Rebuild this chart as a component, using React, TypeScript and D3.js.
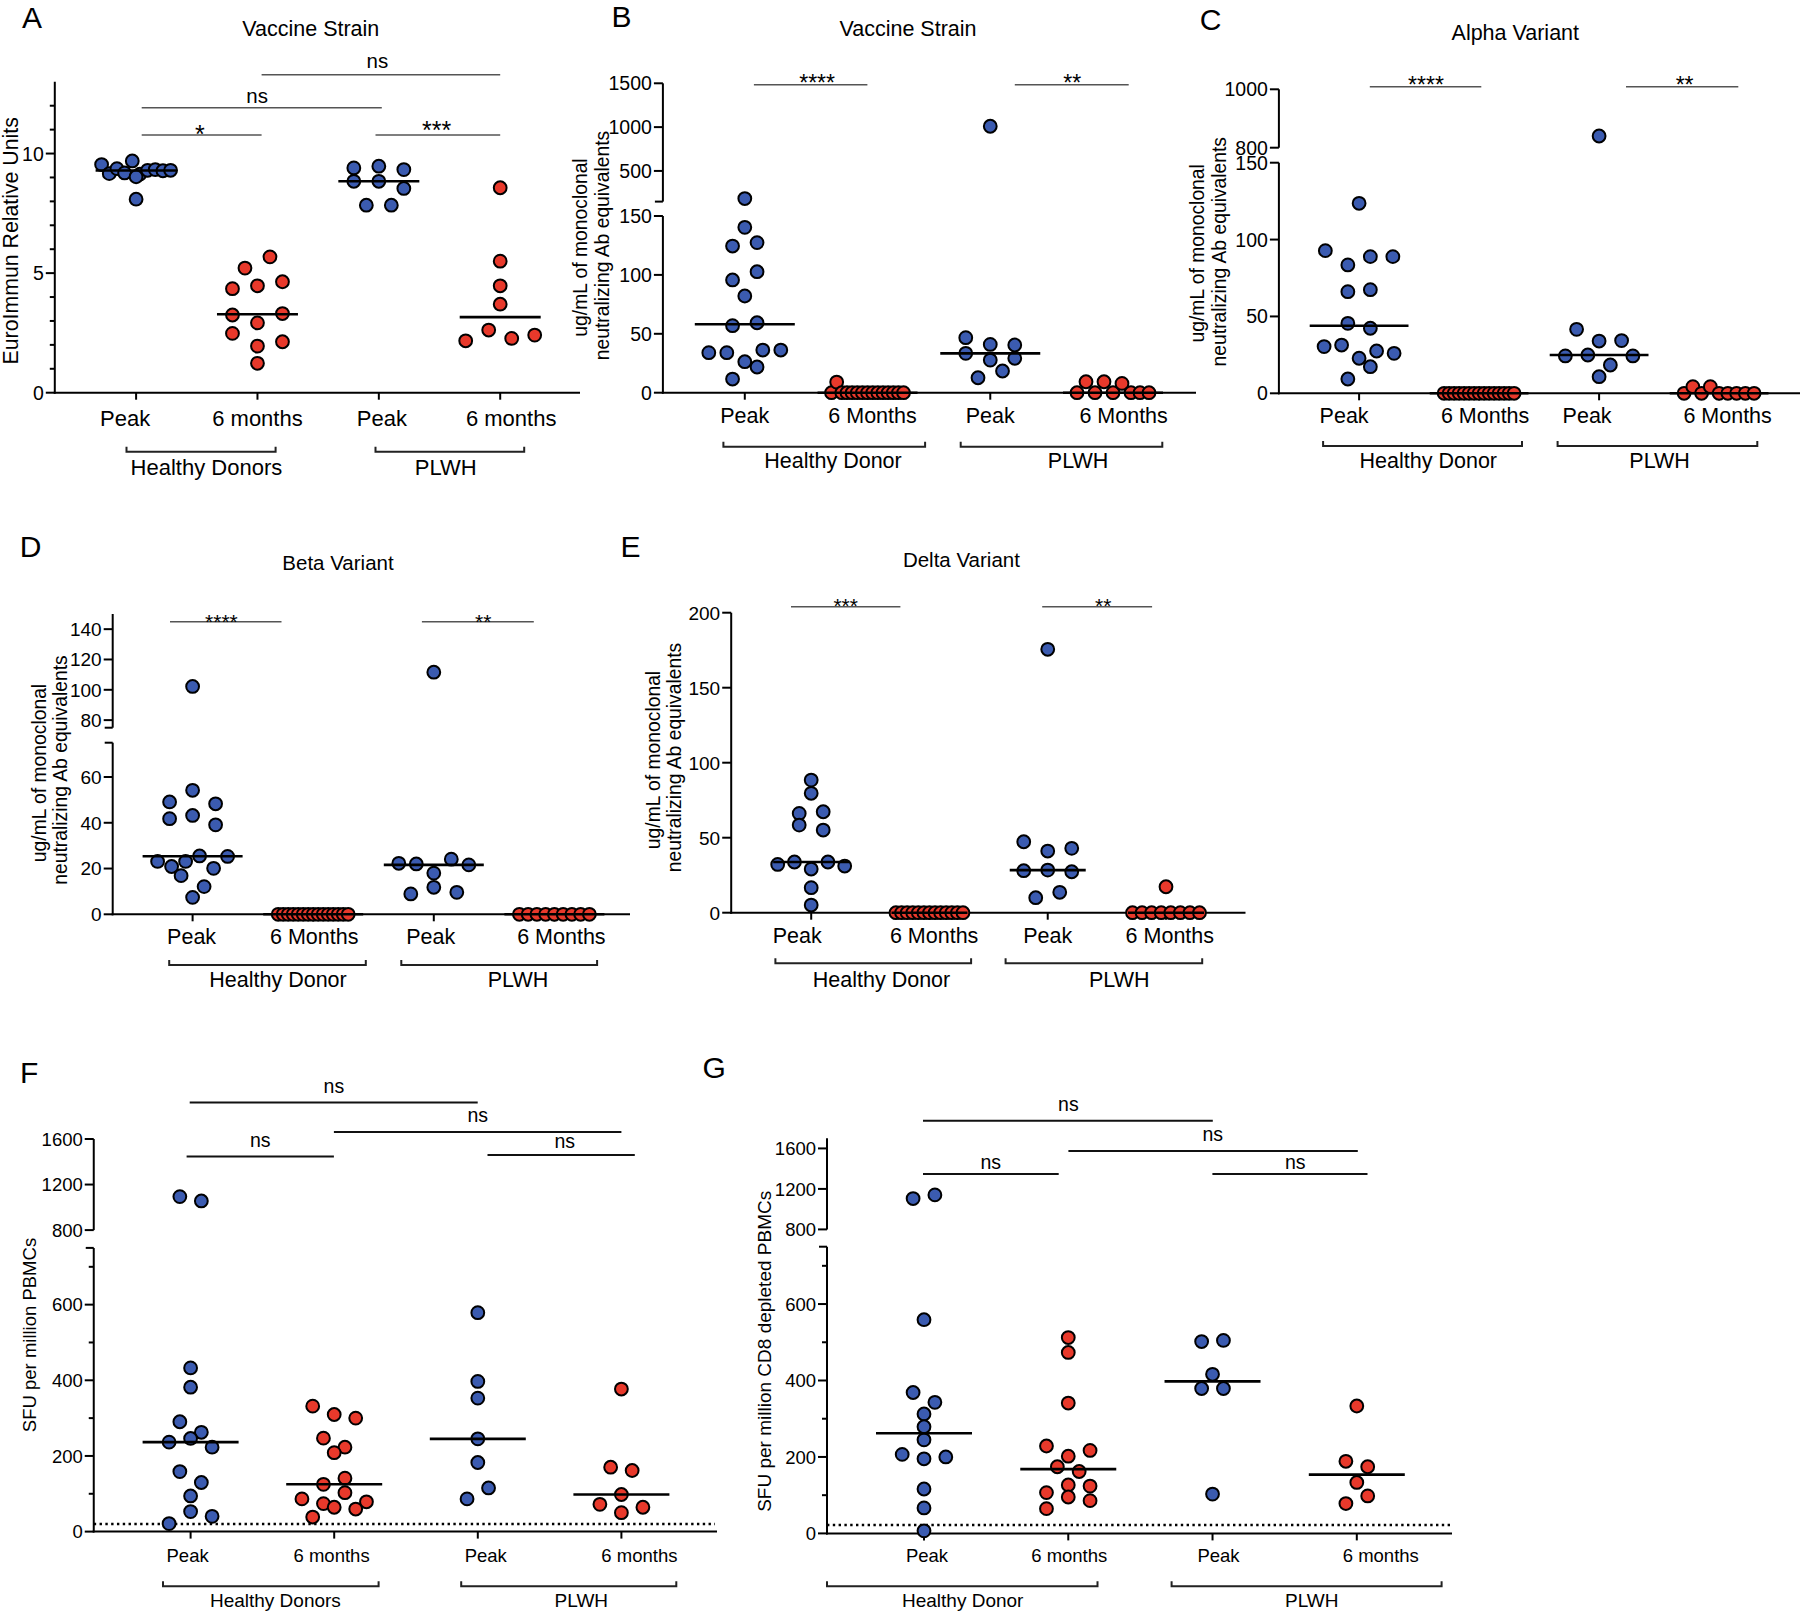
import React from "react";
import * as d3 from "d3";

const FONT = "'Liberation Sans', Arial, Helvetica, sans-serif";
const BLUE = "#3b5bb0";
const RED = "#e8392b";

// ---------- Panel A : Vaccine Strain (EuroImmun) ----------
const aTitle = "Vaccine Strain";
const aCategories = ["Peak", "6 months", "Peak", "6 months"];
const aGroups = ["Healthy Donors", "PLWH"];
const aTicks = [0, 5, 10];
const aHDPeak = [9.54, 9.16, 9.37, 9.19, 9.69, 9.14, 9.03, 9.3, 9.33, 9.28, 9.3, 8.09];
const aHD6m = [5.21, 5.68, 4.35, 4.47, 4.64, 3.25, 2.92, 3.31, 2.48, 1.95, 2.13, 1.23];
const aPLWHPeak = [9.4, 9.47, 9.33, 8.84, 8.84, 8.54, 7.84, 7.84];
const aPLWH6m = [8.57, 5.5, 4.47, 3.7, 2.17, 2.62, 2.27, 2.41];

// ---------- Panel B : Vaccine Strain (neutralizing) ----------
const bTitle = "Vaccine Strain";
const bCategories = ["Peak", "6 Months", "Peak", "6 Months"];
const bGroups = ["Healthy Donor", "PLWH"];
const bTicksLow = [0, 50, 100, 150];
const bTicksHigh = [500, 1000, 1500];
const bHDPeak = [185, 140.4, 124.5, 127.4, 95.7, 102.7, 82.1, 56.9, 59.4, 34, 34, 26.3, 36.2, 36.2, 11.6, 21.8];
const bHD6m = [0, 9, 0, 0, 0, 0, 0, 0, 0, 0, 0, 0, 0, 0, 0];
const bPLWHPeak = [1010, 46.7, 41.0, 40.5, 33.4, 27.7, 29.2, 12.7, 18.4];
const bPLWH6m = [0, 9.3, 0, 9.3, 0, 7.9, 0, 0, 0];

// ---------- Panel C : Alpha Variant ----------
const cTitle = "Alpha Variant";
const cCategories = ["Peak", "6 Months", "Peak", "6 Months"];
const cGroups = ["Healthy Donor", "PLWH"];
const cTicksLow = [0, 50, 100, 150];
const cTicksHigh = [800, 1000];
const cHDPeak = [123.6, 92.8, 83.5, 88.9, 88.9, 66.1, 67.4, 45.5, 42.3, 30.4, 31.4, 22.8, 27.5, 26.0, 9.3, 17.3];
const cHD6m = [0, 0, 0, 0, 0, 0, 0, 0, 0, 0, 0, 0, 0, 0, 0];
const cPLWHPeak = [840, 41.6, 34.0, 34.3, 24.3, 24.9, 18.4, 24.3, 10.8];
const cPLWH6m = [0, 4.3, 0, 4.3, 0, 0, 0, 0, 0];

// ---------- Panel D : Beta Variant ----------
const dTitle = "Beta Variant";
const dCategories = ["Peak", "6 Months", "Peak", "6 Months"];
const dGroups = ["Healthy Donor", "PLWH"];
const dTicksLow = [0, 20, 40, 60];
const dTicksHigh = [80, 100, 120, 140];
const dHDPeak = [102.2, 49.1, 54.2, 48.3, 41.8, 43.2, 39.1, 23.1, 20.9, 23.1, 25.5, 20.1, 25.3, 16.9, 12.1, 7.4];
const dHD6m = [0, 0, 0, 0, 0, 0, 0, 0, 0, 0, 0, 0, 0, 0, 0];
const dPLWHPeak = [111.6, 22.3, 22.0, 18.0, 24.1, 21.6, 8.9, 11.8, 9.6];
const dPLWH6m = [0, 0, 0, 0, 0, 0, 0, 0, 0];

// ---------- Panel E : Delta Variant ----------
const eTitle = "Delta Variant";
const eCategories = ["Peak", "6 Months", "Peak", "6 Months"];
const eGroups = ["Healthy Donor", "PLWH"];
const eTicks = [0, 50, 100, 150, 200];
const eHDPeak = [88.4, 79.6, 66.2, 67.3, 58.4, 55.1, 32.2, 33.8, 29.1, 33.8, 31.1, 16.7, 5.1];
const eHD6m = [0, 0, 0, 0, 0, 0, 0, 0, 0, 0, 0, 0, 0];
const ePLWHPeak = [175.6, 47.3, 41.1, 42.9, 28.0, 28.4, 27.3, 10.0, 13.6];
const ePLWH6m = [17.3, 0, 0, 0, 0, 0, 0, 0, 0];

// ---------- Panel F : SFU per million PBMCs ----------
const fCategories = ["Peak", "6 months", "Peak", "6 months"];
const fGroups = ["Healthy Donors", "PLWH"];
const fTicksLow = [0, 200, 400, 600];
const fTicksHigh = [800, 1200, 1600];
const fLimit = 20;
const fHDPeak = [1094, 1056, 432.7, 381.7, 290.4, 262.5, 236.5, 246.2, 223.1, 158.7, 129.8, 94.2, 21.2, 52.9, 40.4];
const fHD6m = [331.7, 309.6, 300, 247.1, 223.1, 208.7, 125, 141.3, 86.5, 74.0, 102.9, 78.8, 38.5, 64.4, 59.6];
const fPLWHPeak = [578.8, 397, 352.9, 245.2, 182.7, 86.5, 115.4];
const fPLWH6m = [376.9, 170.2, 161.5, 72.1, 98.1, 64.4, 50];

// ---------- Panel G : SFU per million CD8 depleted PBMCs ----------
const gCategories = ["Peak", "6 months", "Peak", "6 months"];
const gGroups = ["Healthy Donor", "PLWH"];
const gTicksLow = [0, 200, 400, 600];
const gTicksHigh = [800, 1200, 1600];
const gLimit = 22;
const gHDPeak = [1105, 1141, 559, 368.6, 342.9, 312.4, 279, 244.8, 206.7, 195.2, 200, 116.2, 66.7, 6.7];
const gHD6m = [512.4, 473.3, 341, 228.6, 201.9, 217.1, 174.3, 161.9, 106.7, 126.7, 123.8, 64.8, 95.2, 85.7];
const gPLWHPeak = [501.9, 504.8, 416.2, 379, 379, 102.9];
const gPLWH6m = [333.3, 188.6, 174.3, 133.3, 78.1, 98.1];

const ylab2 = ["ug/mL of monoclonal", "neutralizing Ab equivalents"];
const minorSFU = [100, 300, 500, 700];
const minorA = d3.range(1, 13).filter((v) => v % 5 !== 0);

type Seg = { domain: [number, number]; range: [number, number]; ticks: number[]; minor?: number[]; capTop?: boolean; capBottom?: boolean };
type Sig = { x0: number; x1: number; y: number; t: string; tx: number; ty: number };

function swarm(values: number[], yFn: (v: number) => number, cx: number, spacing: number, maxW: number, binH: number) {
  const order = values.map((_, i) => i).sort((a, b) => values[b] - values[a] || a - b);
  const rows: number[][] = [];
  let cur: number[] = [];
  let startY = 0;
  for (const i of order) {
    const py = yFn(values[i]);
    if (cur.length && py - startY > binH) {
      rows.push(cur);
      cur = [];
    }
    if (!cur.length) startY = py;
    cur.push(i);
  }
  if (cur.length) rows.push(cur);
  const out = values.map((v) => ({ v, x: cx, y: yFn(v) }));
  for (const row of rows) {
    row.sort((a, b) => a - b);
    const n = row.length;
    const sp = n > 1 ? Math.min(spacing, maxW / (n - 1)) : 0;
    row.forEach((idx, k) => {
      out[idx].x = cx + (k - (n - 1) / 2) * sp;
    });
  }
  return out;
}

const panels: any[] = [
  {
    key: "A", letter: { x: 22, y: 28 }, title: { t: aTitle, x: 310.8, y: 36, size: 21.5 },
    yLabel: [{ t: "EuroImmun Relative Units", x: 17.5, y: 240.8 }], yLabelSize: 21.3,
    axisX: 54.8, xEnd: 580, tickSize: 19.5,
    segments: [{ domain: [0, 13], range: [392.7, 81.8], ticks: aTicks, minor: minorA }],
    cat0: 136.1, cat3: 500.2, categories: aCategories, labelY: 426, labelSize: 22, labelDx: [-11, 0, 3, 11],
    groups: aGroups, brackets: [{ x0: 126.5, x1: 275.6, y: 451.7, lx: 206.4, ly: 475 }, { x0: 375.5, x1: 524.2, y: 451.7, lx: 445.8, ly: 475 }], groupSize: 22,
    sig: [
      { x0: 141.7, x1: 261.6, y: 135, t: "*", tx: 199.8, ty: 143 },
      { x0: 141.7, x1: 381.8, y: 107.7, t: "ns", tx: 257.1, ty: 103.3 },
      { x0: 261.6, x1: 500.2, y: 74.7, t: "ns", tx: 377.4, ty: 68.3 },
      { x0: 375.5, x1: 500.2, y: 135, t: "***", tx: 436.6, ty: 139 },
    ], sigColor: "#555", sigWidth: 1.6, starSize: 25, nsSize: 20.5,
    series: [aHDPeak, aHD6m, aPLWHPeak, aPLWH6m], medianHalf: 40.5, spacing: 25, maxW: 69, binH: 14,
  },
  {
    key: "B", letter: { x: 611.5, y: 26.7 }, title: { t: bTitle, x: 908, y: 36, size: 21.5 },
    yLabel: [{ t: ylab2[0], x: 587, y: 247.5 }, { t: ylab2[1], x: 608.5, y: 245.5 }], yLabelSize: 19.3,
    axisX: 662.9, xEnd: 1196, tickSize: 19.5,
    segments: [
      { domain: [0, 150], range: [392.7, 216], ticks: bTicksLow },
      { domain: [150, 1500], range: [201.6, 83.3], ticks: bTicksHigh, capBottom: true },
    ],
    cat0: 744.8, cat3: 1113, categories: bCategories, labelY: 422.7, labelSize: 21.5, labelDx: [0, 5, 0, 10.6],
    groups: bGroups, brackets: [{ x0: 723.4, x1: 925.1, y: 446.7, lx: 833, ly: 468.3 }, { x0: 960.7, x1: 1162.3, y: 446.7, lx: 1078.1, ly: 468.3 }], groupSize: 21.5,
    sig: [
      { x0: 753.9, x1: 867.4, y: 84.7, t: "****", tx: 817.1, ty: 91 },
      { x0: 1014.8, x1: 1128.7, y: 84.7, t: "**", tx: 1072.2, ty: 91 },
    ], sigColor: "#555", sigWidth: 1.6, starSize: 23, nsSize: 20,
    series: [bHDPeak, bHD6m, bPLWHPeak, bPLWH6m], medianHalf: 50, spacing: 24.5, maxW: 72, binH: 14,
  },
  {
    key: "C", letter: { x: 1199.8, y: 30 }, title: { t: cTitle, x: 1515.3, y: 40, size: 21.5 },
    yLabel: [{ t: ylab2[0], x: 1204, y: 253.3 }, { t: ylab2[1], x: 1225.5, y: 251.7 }], yLabelSize: 19.3,
    axisX: 1278.9, xEnd: 1800, tickSize: 19.5,
    segments: [
      { domain: [0, 150], range: [393.3, 162.7], ticks: cTicksLow },
      { domain: [800, 1000], range: [147.7, 89.3], ticks: cTicksHigh },
    ],
    cat0: 1359.1, cat3: 1719.1, categories: cCategories, labelY: 423.3, labelSize: 21.5, labelDx: [-15, 6, -12, 8.5],
    groups: cGroups, brackets: [{ x0: 1323.1, x1: 1522, y: 446, lx: 1428.3, ly: 468 }, { x0: 1557.6, x1: 1757.3, y: 446, lx: 1659.6, ly: 468 }], groupSize: 21.5,
    sig: [
      { x0: 1369.8, x1: 1481.3, y: 86.7, t: "****", tx: 1426, ty: 92.5 },
      { x0: 1626, x1: 1738.3, y: 86.7, t: "**", tx: 1684.6, ty: 92.5 },
    ], sigColor: "#555", sigWidth: 1.6, starSize: 23, nsSize: 20,
    series: [cHDPeak, cHD6m, cPLWHPeak, cPLWH6m], medianHalf: 49.4, spacing: 22.5, maxW: 70, binH: 14.5,
  },
  {
    key: "D", letter: { x: 19.8, y: 556.7 }, title: { t: dTitle, x: 338, y: 570, size: 20.5 },
    yLabel: [{ t: ylab2[0], x: 46, y: 773 }, { t: ylab2[1], x: 67, y: 770 }], yLabelSize: 19.3,
    axisX: 112.7, xEnd: 630, tickSize: 19,
    segments: [
      { domain: [0, 75], range: [914.3, 742.7], ticks: dTicksLow, capTop: true },
      { domain: [75, 150], range: [727.7, 614], ticks: dTicksHigh, capBottom: true },
    ],
    cat0: 192.6, cat3: 554.4, categories: dCategories, labelY: 944, labelSize: 21.5, labelDx: [-1, 1, -3, 7],
    groups: dGroups, brackets: [{ x0: 169.2, x1: 365.8, y: 965, lx: 278, ly: 987.3 }, { x0: 401.3, x1: 597.1, y: 965, lx: 518, ly: 987.3 }], groupSize: 21.5,
    sig: [
      { x0: 170, x1: 281.5, y: 621.7, t: "****", tx: 221.4, ty: 628.7 },
      { x0: 421.9, x1: 533.8, y: 621.7, t: "**", tx: 483.2, ty: 628.7 },
    ], sigColor: "#555", sigWidth: 1.6, starSize: 21, nsSize: 20,
    series: [dHDPeak, dHD6m, dPLWHPeak, dPLWH6m], medianHalf: 50, spacing: 23, maxW: 70, binH: 14,
  },
  {
    key: "E", letter: { x: 620.5, y: 556.7 }, title: { t: eTitle, x: 961.4, y: 567.3, size: 20.5 },
    yLabel: [{ t: ylab2[0], x: 659.5, y: 760 }, { t: ylab2[1], x: 681, y: 757.5 }], yLabelSize: 19.3,
    axisX: 731.2, xEnd: 1245.5, tickSize: 19,
    segments: [{ domain: [0, 200], range: [912.7, 612.7], ticks: eTicks }],
    cat0: 811.2, cat3: 1166, categories: eCategories, labelY: 943.3, labelSize: 21.5, labelDx: [-14, 4.7, 0, 3.8],
    groups: eGroups, brackets: [{ x0: 775.4, x1: 971.1, y: 963.3, lx: 881.5, ly: 986.7 }, { x0: 1005.6, x1: 1202.2, y: 963.3, lx: 1119.3, ly: 986.7 }], groupSize: 21.5,
    sig: [
      { x0: 791, x1: 900.4, y: 606.7, t: "***", tx: 845.7, ty: 613.4 },
      { x0: 1042.2, x1: 1152.1, y: 606.7, t: "**", tx: 1103.3, ty: 613.4 },
    ], sigColor: "#555", sigWidth: 1.6, starSize: 21, nsSize: 20,
    series: [eHDPeak, eHD6m, ePLWHPeak, ePLWH6m], medianHalf: 38, spacing: 24, maxW: 67, binH: 13,
  },
  {
    key: "F", letter: { x: 20, y: 1083 }, title: null,
    yLabel: [{ t: "SFU per million PBMCs", x: 36.3, y: 1335 }], yLabelSize: 18.5,
    axisX: 93.75, xEnd: 717, tickSize: 18.5,
    segments: [
      { domain: [0, 750], range: [1531.6, 1247.9], ticks: fTicksLow, minor: minorSFU, capTop: true },
      { domain: [800, 1600], range: [1230.1, 1139], ticks: fTicksHigh },
    ],
    cat0: 190.6, cat3: 621.4, categories: fCategories, labelY: 1561.5, labelSize: 18.5, labelDx: [-3, -2.6, 8, 18],
    groups: fGroups, brackets: [{ x0: 163, x1: 378.6, y: 1586.2, lx: 275.4, ly: 1607 }, { x0: 461.2, x1: 676.3, y: 1586.2, lx: 581.3, ly: 1607 }], groupSize: 19,
    sig: [
      { x0: 189.7, x1: 477.7, y: 1102.6, t: "ns", tx: 333.9, ty: 1092.8 },
      { x0: 333.9, x1: 621.4, y: 1132.1, t: "ns", tx: 477.7, ty: 1121.9 },
      { x0: 186.6, x1: 333.9, y: 1156.5, t: "ns", tx: 260.3, ty: 1147.4 },
      { x0: 487.5, x1: 634.8, y: 1155.1, t: "ns", tx: 564.7, ty: 1147.5 },
    ], sigColor: "#111", sigWidth: 2, starSize: 21, nsSize: 19.5,
    dotted: { v: fLimit, x1: 715 },
    series: [fHDPeak, fHD6m, fPLWHPeak, fPLWH6m], medianHalf: 48, spacing: 21.5, maxW: 90, binH: 13,
  },
  {
    key: "G", letter: { x: 702.4, y: 1078 }, title: null,
    yLabel: [{ t: "SFU per million CD8 depleted PBMCs", x: 771, y: 1351.3 }], yLabelSize: 19,
    axisX: 827, xEnd: 1452, tickSize: 18.5,
    segments: [
      { domain: [0, 750], range: [1533.4, 1246.7], ticks: gTicksLow, minor: minorSFU, capTop: true },
      { domain: [800, 1700], range: [1229.4, 1138.3], ticks: gTicksHigh },
    ],
    cat0: 924, cat3: 1356.8, categories: gCategories, labelY: 1561.5, labelSize: 18.5, labelDx: [3, 1, 6, 24],
    groups: gGroups, brackets: [{ x0: 827, x1: 1097.5, y: 1586.2, lx: 962.7, ly: 1607 }, { x0: 1171.6, x1: 1441.6, y: 1586.2, lx: 1311.7, ly: 1607 }], groupSize: 19,
    sig: [
      { x0: 923, x1: 1212.8, y: 1120.8, t: "ns", tx: 1068.4, ty: 1111 },
      { x0: 1068.4, x1: 1357.8, y: 1151.1, t: "ns", tx: 1212.8, ty: 1141.2 },
      { x0: 923, x1: 1058.7, y: 1174, t: "ns", tx: 990.8, ty: 1169 },
      { x0: 1212.4, x1: 1367.5, y: 1174, t: "ns", tx: 1295.3, ty: 1169 },
    ], sigColor: "#111", sigWidth: 2, starSize: 21, nsSize: 19.5,
    dotted: { v: gLimit, x1: 1450 },
    series: [gHDPeak, gHD6m, gPLWHPeak, gPLWH6m], medianHalf: 48, spacing: 21.8, maxW: 90, binH: 12,
  },
];

const COLORS = [BLUE, RED, BLUE, RED];

function Panel({ cfg }: { cfg: any }) {
  const segs = (cfg.segments as Seg[]).map((s) => ({ ...s, scale: d3.scaleLinear().domain(s.domain).range(s.range) }));
  const y = (v: number) => {
    let seg = segs.find((s) => v >= s.domain[0] && v <= s.domain[1]);
    if (!seg) seg = v > segs[segs.length - 1].domain[1] ? segs[segs.length - 1] : segs[0];
    return seg.scale(v);
  };
  const x = d3.scalePoint<number>().domain(d3.range(4)).range([cfg.cat0, cfg.cat3]);
  const y0 = y(0);
  const ax = cfg.axisX;
  const majorLen = 9;
  const minorLen = 5;
  const capLen = 8;

  return (
    <g fontFamily={FONT} fill="#000">
      <text x={cfg.letter.x} y={cfg.letter.y} fontSize={30}>{cfg.key}</text>
      {cfg.title && (
        <text x={cfg.title.x} y={cfg.title.y} fontSize={cfg.title.size} textAnchor="middle">{cfg.title.t}</text>
      )}
      {cfg.yLabel.map((l: any, i: number) => (
        <text key={i} transform={`translate(${l.x},${l.y}) rotate(-90)`} fontSize={cfg.yLabelSize} textAnchor="middle">{l.t}</text>
      ))}
      {segs.map((s, si) => (
        <g key={si} stroke="#000" strokeWidth={2}>
          <line x1={ax} x2={ax} y1={s.range[0] + (si === 0 ? 1 : 0)} y2={s.range[1]} />
          {s.ticks.map((t) => (
            <line key={"t" + t} x1={ax - majorLen} x2={ax} y1={s.scale(t)} y2={s.scale(t)} />
          ))}
          {(s.minor || []).map((t) => (
            <line key={"m" + t} x1={ax - minorLen} x2={ax} y1={s.scale(t)} y2={s.scale(t)} />
          ))}
          {s.capTop && <line x1={ax - capLen} x2={ax} y1={s.range[1]} y2={s.range[1]} />}
          {s.capBottom && <line x1={ax - capLen} x2={ax} y1={s.range[0]} y2={s.range[0]} />}
          {s.ticks.map((t) => (
            <text key={"l" + t} x={ax - 11} y={s.scale(t)} dy="0.36em" fontSize={cfg.tickSize} textAnchor="end" stroke="none">{t}</text>
          ))}
        </g>
      ))}
      <line x1={ax - 1} x2={cfg.xEnd} y1={y0} y2={y0} stroke="#000" strokeWidth={2} />
      {cfg.categories.map((c: string, i: number) => (
        <g key={i}>
          <line x1={x(i)} x2={x(i)} y1={y0} y2={y0 + 7} stroke="#000" strokeWidth={2} />
          <text x={(x(i) as number) + cfg.labelDx[i]} y={cfg.labelY} fontSize={cfg.labelSize} textAnchor="middle">{c}</text>
        </g>
      ))}
      {cfg.brackets.map((b: any, i: number) => (
        <g key={i}>
          <path d={`M${b.x0},${b.y - 5}V${b.y}H${b.x1}V${b.y - 5}`} fill="none" stroke="#222" strokeWidth={2} />
          <text x={b.lx} y={b.ly} fontSize={cfg.groupSize} textAnchor="middle">{cfg.groups[i]}</text>
        </g>
      ))}
      {(cfg.sig as Sig[]).map((s, i) => (
        <g key={i}>
          <line x1={s.x0} x2={s.x1} y1={s.y} y2={s.y} stroke={cfg.sigColor} strokeWidth={cfg.sigWidth} />
          <text x={s.tx} y={s.ty} fontSize={s.t === "ns" ? cfg.nsSize : cfg.starSize} textAnchor="middle">{s.t}</text>
        </g>
      ))}
      {cfg.dotted && (
        <line x1={ax} x2={cfg.dotted.x1} y1={y(cfg.dotted.v)} y2={y(cfg.dotted.v)} stroke="#000" strokeWidth={2.6} strokeDasharray="2.4,3.4" />
      )}
      {cfg.series.map((vals: number[], si: number) => {
        const pts = swarm(vals, y, x(si) as number, cfg.spacing, cfg.maxW, cfg.binH);
        return (
          <g key={si}>
            {pts.map((p, k) => (
              <circle key={k} cx={p.x} cy={p.y} r={6.4} fill={COLORS[si]} stroke="#000" strokeWidth={2} />
            ))}
          </g>
        );
      })}
      {cfg.series.map((vals: number[], si: number) => {
        const m = d3.median(vals) as number;
        return (
          <line key={si} x1={(x(si) as number) - cfg.medianHalf} x2={(x(si) as number) + cfg.medianHalf} y1={y(m)} y2={y(m)} stroke="#000" strokeWidth={2.6} />
        );
      })}
    </g>
  );
}

export default function App() {
  return (
    <svg width={1800} height={1611} viewBox="0 0 1800 1611" style={{ position: "absolute", left: 0, top: 0, display: "block", background: "#fff" }}>
      <rect width={1800} height={1611} fill="#fff" />
      {panels.map((p) => (
        <Panel key={p.key} cfg={p} />
      ))}
    </svg>
  );
}
